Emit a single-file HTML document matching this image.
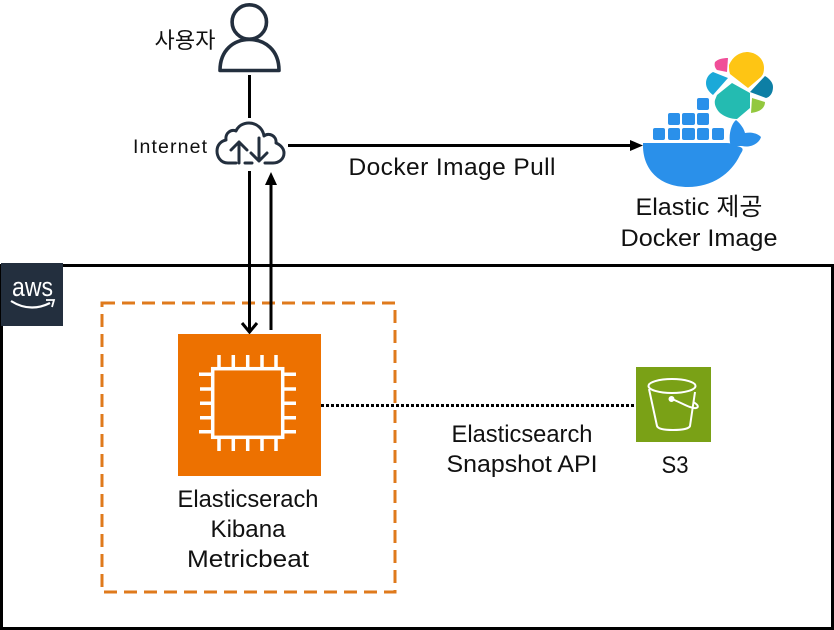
<!DOCTYPE html>
<html lang="ko"><head><meta charset="utf-8"><title>Diagram</title>
<style>
html,body{margin:0;padding:0;background:#fff}
svg{display:block}
text{font-family:"Liberation Sans","Noto Sans CJK KR",sans-serif;fill:#111;text-anchor:middle}
.big{font-size:24.5px}
</style></head><body>
<svg width="834" height="630" viewBox="0 0 834 630" xmlns="http://www.w3.org/2000/svg">
<rect width="834" height="630" fill="#fff"/>
<!-- AWS group -->
<rect x="1.5" y="265.5" width="831" height="363" fill="#fff" stroke="#000" stroke-width="3"/>
<rect x="1" y="263" width="62" height="63" fill="#232f3e"/>
<text x="32.500" y="296" style="font-size:27px;fill:#fff" textLength="41" lengthAdjust="spacingAndGlyphs">aws</text>
<path d="M11 301 Q30 313 50 303" fill="none" stroke="#fff" stroke-width="2.200"/>
<path d="M46 300 L54 300 L52 307" fill="none" stroke="#fff" stroke-width="1.800"/>
<!-- dashed -->
<rect x="102" y="303" width="293" height="289" fill="none" stroke="#df7a1c" stroke-width="3" stroke-dasharray="13 7"/>
<!-- Person -->
<g fill="none" stroke="#232f3e" stroke-width="3.600">
<circle cx="249.300" cy="22" r="17.200"/>
<path d="M220 70.500 C220 50 234 39.500 249.300 39.500 C265 39.500 279 50 279 70.500 Z" stroke-linejoin="round"/>
</g>
<text x="185" y="48" style="font-size:22px" textLength="61">사용자</text>
<!-- lines -->
<path d="M249.500 75V118" stroke="#000" stroke-width="3"/>
<!-- Cloud -->
<g fill="none" stroke="#232f3e" stroke-width="3" stroke-linecap="round" stroke-linejoin="round">
<path d="M236 163H228C220 163 217 156 217 151C217 145 221 141 226 140C225 133 231 129 236 131C238 126 243 123 249 123C257 123 263 129 264 136C269 132 277 136 276 143C281 145 284 149 284 153C284 159 279 163 273 163H265"/>
<path d="M239 163V142M231 150L239 142L247 150"/>
<path d="M259 138V161M251 153L259 161L267 153"/>
<path d="M245 163H252"/>
</g>
<text x="170" y="153" style="font-size:19.500px" textLength="74">Internet</text>
<!-- connector to docker -->
<path d="M288 145.500H632" stroke="#000" stroke-width="3"/>
<path d="M643 145.500L630 140V151Z" fill="#000"/>
<text x="452" y="175" class="big" textLength="207">Docker Image Pull</text>
<!-- vertical arrows -->
<path d="M249.500 171V331" stroke="#000" stroke-width="3"/>
<path d="M242 323L249.500 332L257 323" fill="none" stroke="#000" stroke-width="3"/>
<path d="M271 183V330" stroke="#000" stroke-width="3"/>
<path d="M271 172L265 185H277Z" fill="#000"/>
<!-- EC2 -->
<rect x="178" y="334" width="143" height="142" fill="#ed7100"/>
<g fill="none" stroke="#fff" stroke-width="3.500">
<rect x="212.700" y="368.700" width="70" height="68.600"/>
<path d="M219 368V355M233.300 368V355M247.700 368V355M262 368V355M276 368V355"/>
<path d="M219 438V451M233.300 438V451M247.700 438V451M262 438V451M276 438V451"/>
<path d="M212 374.300H199M212 389H200M212 403.300H200M212 417.700H200M212 431.700H199"/>
<path d="M283 374.300H296M283 389H296M283 403.300H296M283 417.700H296M283 431.700H296"/>
</g>
<text x="248" y="507" class="big" textLength="141" lengthAdjust="spacingAndGlyphs">Elasticserach</text>
<text x="248" y="537" class="big" textLength="75" lengthAdjust="spacingAndGlyphs">Kibana</text>
<text x="248" y="567" class="big" textLength="122" lengthAdjust="spacingAndGlyphs">Metricbeat</text>
<!-- dotted -->
<path d="M321 405.500H638" stroke="#000" stroke-width="3" stroke-dasharray="3 2"/>
<text x="522" y="442" class="big" textLength="141" lengthAdjust="spacingAndGlyphs">Elasticsearch</text>
<text x="522" y="472" class="big" textLength="151" lengthAdjust="spacingAndGlyphs">Snapshot API</text>
<!-- S3 -->
<rect x="636" y="367" width="75" height="75" fill="#7aa116"/>
<g fill="none" stroke="#fff" stroke-width="2">
<ellipse cx="672" cy="386" rx="23.500" ry="7"/>
<path d="M649 389L657 426C658 429 665 430 673 430C681 430 689 429 690 426L695 392"/>
<path d="M672 399C682 403 691 409 696 408C700 407 697 404 693 402"/>
<circle cx="671.500" cy="399" r="2" fill="#fff"/>
</g>
<text x="675" y="473" class="big" textLength="27" lengthAdjust="spacingAndGlyphs">S3</text>
<!-- Docker -->
<g fill="#2a90ea">
<path d="M643 143H722C729 143 733 143 737 146C745 148 743 150 740 155C731 174 712 187 688 187C660 187 642 170 643 143Z"/>
<path d="M731 146C728 139 730 125 736 120C741 124 744 129 745 133C751 132 757 133 761 137C759 144 750 148 742 146Z"/>
<rect x="653" y="128" width="12" height="12" rx="2"/>
<rect x="668" y="128" width="12" height="12" rx="2"/>
<rect x="682" y="128" width="13" height="12" rx="2"/>
<rect x="697" y="128" width="12" height="12" rx="2"/>
<rect x="712" y="128" width="12" height="12" rx="2"/>
<rect x="668" y="113" width="12" height="12" rx="2"/>
<rect x="682" y="113" width="13" height="12" rx="2"/>
<rect x="697" y="113" width="12" height="12" rx="2"/>
<rect x="697" y="98" width="12" height="12" rx="2"/>
</g>
<!-- Elastic -->
<path d="M729 65C733 56 740 52 748 52C758 53 764 60 764 68C764 72 763 75 761 77L748 88L730 74C729 71 729 68 729 65Z" fill="#fec514"/>
<path d="M715 62C718 59 723 58 728 58L727 72L717 70C715 68 714 65 715 62Z" fill="#f04e98"/>
<path d="M713 72L728 78L713 95C709 92 706 88 706 83C706 78 709 74 713 72Z" fill="#1ba9d8"/>
<path d="M732 83L750 93L750 108L737 119C731 119 725 117 720 113C716 109 714 104 715 100L717 95Z" fill="#24bbb1"/>
<path d="M765 76C770 79 773 83 773 87C773 93 770 97 766 98L750 92Z" fill="#0d7fa5"/>
<path d="M752 98L765 102C765 108 760 112 751 113Z" fill="#93c83e"/>
<text x="699" y="215" class="big" textLength="127" lengthAdjust="spacingAndGlyphs">Elastic 제공</text>
<text x="699" y="246" class="big" textLength="157" lengthAdjust="spacingAndGlyphs">Docker Image</text>
</svg>
</body></html>
